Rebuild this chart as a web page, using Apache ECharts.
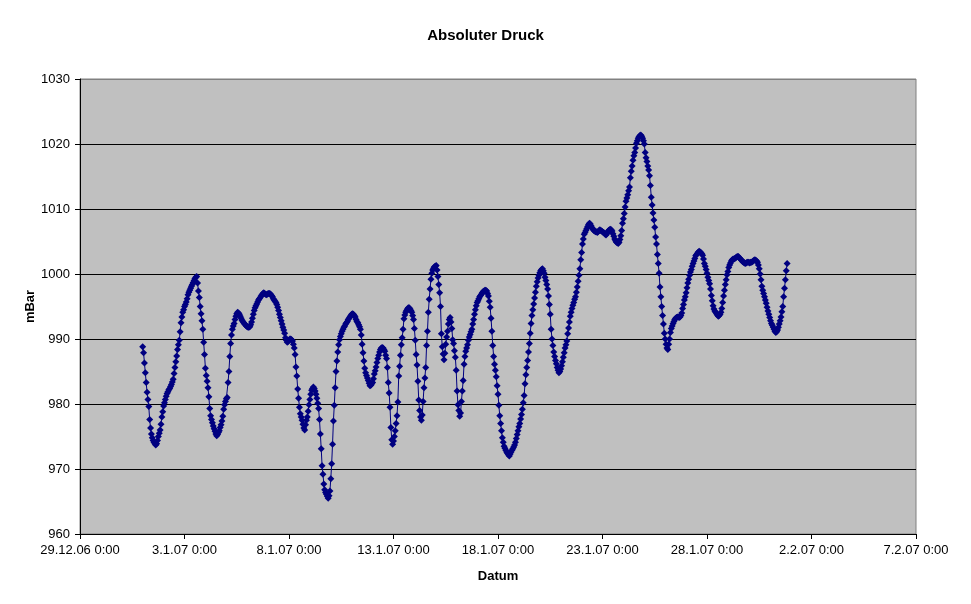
<!DOCTYPE html>
<html>
<head>
<meta charset="utf-8">
<script src="https://cdn.jsdelivr.net/npm/echarts@6/dist/echarts.min.js"></script>
<style>
html,body{margin:0;padding:0;background:#fff;}
#chart{width:971px;height:604px;}
</style>
</head>
<body>
<div id="chart"></div>
<script>
// Hourly absolute pressure readings (mBar), first reading 1.1.07 0:00
var startDay = 3;            // days after 29.12.06 0:00
var stepHours = 1;
var pressure = [
988.8,987.9,986.3,984.8,983.3,981.8,980.7,979.6,977.6,976.3,975.4,974.8,974.4,974.1,973.9,973.7,973.9,974.4,975.0,975.5,976.0,976.9,978.0,978.8,
979.7,980.2,980.7,981.2,981.6,981.9,982.2,982.4,982.7,983.0,983.4,983.8,984.7,985.6,986.5,987.4,988.4,989.1,989.8,991.1,992.5,993.4,994.1,994.5,
995.0,995.3,995.7,996.2,996.8,997.2,997.5,997.8,998.1,998.4,998.7,999.0,999.3,999.5,999.6,998.6,997.4,996.4,995.0,993.9,992.8,991.5,989.5,987.6,
985.5,984.4,983.5,982.5,981.1,979.3,978.2,977.6,977.1,976.6,976.2,975.8,975.4,975.1,975.3,975.6,975.9,976.4,976.8,977.4,978.1,979.2,979.9,980.4,
980.8,981.0,983.3,985.0,987.3,989.3,990.6,991.5,992.0,992.4,993.0,993.5,993.9,994.1,994.0,993.8,993.5,993.2,992.9,992.7,992.5,992.3,992.2,992.0,
991.9,991.8,991.8,991.9,992.2,992.6,993.2,993.8,994.4,994.8,995.1,995.4,995.7,996.0,996.2,996.4,996.6,996.8,997.0,997.1,997.0,996.9,996.8,996.9,
997.0,997.0,997.0,996.9,996.7,996.5,996.2,996.0,995.8,995.6,995.3,994.9,994.4,993.8,993.3,992.8,992.3,991.8,991.4,990.9,990.2,989.8,989.5,989.6,
989.8,990.0,990.0,989.9,989.7,989.2,988.6,987.6,985.7,984.3,982.3,980.9,979.5,978.5,978.0,977.5,976.9,976.3,976.0,976.8,977.5,978.0,978.9,979.9,
980.7,981.5,982.1,982.4,982.6,982.4,982.0,981.5,980.9,980.1,979.3,977.6,975.4,973.1,970.5,969.2,967.7,966.8,966.4,966.1,965.8,965.5,965.9,966.6,
968.5,970.8,973.8,977.4,979.8,982.5,985.0,986.6,988.0,989.1,989.9,990.4,990.8,991.2,991.5,991.8,992.0,992.3,992.5,992.7,993.0,993.2,993.4,993.6,
993.8,993.9,993.8,993.6,993.4,993.0,992.7,992.5,992.2,991.9,991.5,990.6,989.2,987.9,986.6,985.5,984.8,984.4,984.0,983.6,983.2,982.8,982.9,983.1,
983.3,983.9,984.6,985.1,985.7,986.4,987.0,987.5,988.0,988.4,988.6,988.7,988.6,988.4,988.1,987.5,987.0,985.6,983.3,981.7,979.5,976.4,974.5,973.8,
974.3,975.0,975.9,977.0,978.2,980.3,984.3,985.8,987.5,989.1,990.2,991.5,993.1,993.7,994.1,994.4,994.6,994.8,994.8,994.6,994.4,994.1,993.6,993.0,
991.6,989.8,987.6,986.0,983.5,980.6,979.0,978.0,977.5,978.3,980.4,982.5,984.0,985.6,989.0,991.2,994.1,996.1,997.7,999.2,1000.1,1000.6,1000.9,1001.1,
1001.2,1001.3,1000.6,999.6,998.4,997.1,995.0,990.8,988.8,987.7,986.8,987.8,989.2,990.3,991.2,992.3,993.0,993.3,992.6,991.6,989.9,989.3,988.2,987.2,
985.2,982.0,979.9,979.0,978.1,978.6,980.4,982.0,983.6,986.1,987.3,988.1,988.6,989.1,989.8,990.3,990.7,991.1,991.5,992.3,993.0,993.8,994.5,995.1,
995.6,995.9,996.2,996.5,996.7,996.9,997.1,997.3,997.4,997.5,997.5,997.4,997.0,996.6,995.8,994.9,993.2,991.2,989.0,987.3,986.1,985.2,984.2,982.8,
981.5,979.8,978.2,977.0,975.9,974.8,974.1,973.5,973.2,972.9,972.6,972.4,972.2,972.0,972.3,972.6,972.9,973.1,973.4,973.7,974.1,974.7,975.3,975.9,
976.5,977.0,977.7,978.4,979.2,980.2,981.3,983.1,984.5,985.6,986.7,988.0,989.3,990.9,992.4,993.6,994.5,995.4,996.3,997.2,998.1,998.8,999.4,999.8,
1000.2,1000.5,1000.7,1000.8,1000.5,1000.1,999.5,999.0,998.4,997.7,996.6,995.3,993.8,991.5,990.0,989.0,988.0,987.3,986.7,986.2,985.6,985.2,984.8,985.0,
985.4,985.9,986.5,987.2,987.9,988.6,989.1,989.7,990.8,991.7,992.6,993.5,994.1,994.7,995.2,995.6,996.1,996.5,997.2,998.0,998.9,999.8,1000.8,1002.2,
1003.3,1004.6,1005.4,1006.1,1006.4,1006.7,1007.0,1007.3,1007.6,1007.8,1007.7,1007.4,1007.1,1006.9,1006.7,1006.6,1006.5,1006.5,1006.4,1006.5,1006.7,1006.8,1006.7,1006.6,
1006.5,1006.4,1006.3,1006.1,1006.0,1006.2,1006.5,1006.7,1006.8,1006.9,1006.8,1006.6,1006.2,1005.8,1005.4,1005.1,1004.9,1004.8,1004.7,1004.9,1005.3,1005.9,1006.7,1007.8,
1008.5,1009.3,1010.3,1011.2,1011.7,1012.2,1012.8,1013.4,1014.8,1015.8,1016.6,1017.5,1018.2,1018.7,1019.4,1020.1,1020.5,1020.9,1021.1,1021.3,1021.4,1021.2,1020.9,1020.5,
1020.0,1018.7,1017.9,1017.3,1016.6,1016.0,1015.1,1013.6,1011.8,1010.6,1009.4,1008.3,1007.2,1005.7,1004.6,1003.0,1001.6,1000.1,998.0,996.5,995.0,993.6,992.3,990.9,
990.0,989.2,988.6,988.4,989.2,990.0,991.0,991.6,992.0,992.4,992.7,993.0,993.2,993.3,993.4,993.4,993.3,993.4,993.6,994.0,994.7,995.3,996.0,996.5,
997.1,997.9,998.6,999.2,999.8,1000.3,1000.7,1001.2,1001.6,1002.0,1002.4,1002.8,1003.0,1003.2,1003.4,1003.5,1003.4,1003.3,1003.1,1002.9,1002.3,1001.6,1001.2,1000.7,
1000.1,999.5,999.0,998.5,997.7,996.7,995.9,995.1,994.6,994.3,994.1,993.9,993.7,993.5,993.6,993.8,994.1,994.7,995.6,996.6,997.5,998.4,999.1,999.9,
1000.4,1001.0,1001.4,1001.7,1002.0,1002.2,1002.3,1002.3,1002.4,1002.5,1002.6,1002.7,1002.7,1002.5,1002.4,1002.2,1002.1,1001.9,1001.8,1001.7,1001.6,1001.7,1001.8,1001.8,
1001.8,1001.7,1001.8,1001.8,1001.9,1002.0,1002.1,1002.2,1002.1,1002.0,1001.8,1001.4,1000.8,1000.0,999.1,998.1,997.5,997.0,996.5,996.0,995.5,994.9,994.3,993.8,
993.3,992.8,992.4,992.1,991.8,991.5,991.2,991.0,991.1,991.4,991.8,992.3,992.8,993.4,994.2,995.0,996.5,997.8,999.1,1000.5,1001.6
];
var xTickLabels = ['29.12.06 0:00','3.1.07 0:00','8.1.07 0:00','13.1.07 0:00','18.1.07 0:00','23.1.07 0:00','28.1.07 0:00','2.2.07 0:00','7.2.07 0:00'];
var xTickStepDays = 5;
var yMin = 960, yMax = 1030, yStep = 10;

var seriesData = pressure.map(function (v, i) { return [startDay + i * stepHours / 24, v]; });

// gridlines black, the top one (plot-area frame) gray
var gridColors = [];
for (var k = yMin; k < yMax; k += yStep) gridColors.push('#000000');
gridColors.push('#808080');

var chart = echarts.init(document.getElementById('chart'), null, {renderer: 'canvas'});
var font = '"Liberation Sans", Arial, sans-serif';
chart.setOption({
  animation: false,
  backgroundColor: '#ffffff',
  title: {
    text: 'Absoluter Druck',
    left: 'center',
    top: 23,
    textStyle: {fontFamily: font, fontSize: 15, fontWeight: 'bold', color: '#000'}
  },
  grid: {
    left: 80, right: 55, top: 79, bottom: 70,
    show: true, backgroundColor: '#C0C0C0', borderWidth: 1, borderColor: '#808080'
  },
  xAxis: {
    type: 'value',
    min: 0, max: (xTickLabels.length - 1) * xTickStepDays, interval: xTickStepDays,
    name: 'Datum', nameLocation: 'middle', nameGap: 36, nameMoveOverlap: false,
    nameTextStyle: {fontFamily: font, fontSize: 13, fontWeight: 'bold', color: '#000'},
    axisLine: {show: true, lineStyle: {color: '#000', width: 1}},
    axisTick: {show: true, length: 5, lineStyle: {color: '#000'}},
    axisLabel: {
      fontFamily: font, fontSize: 13, color: '#000', margin: 10,
      formatter: function (v) { return xTickLabels[Math.round(v / xTickStepDays)] || ''; }
    },
    splitLine: {show: false}
  },
  yAxis: {
    type: 'value',
    min: yMin, max: yMax, interval: yStep,
    name: 'mBar', nameLocation: 'middle', nameGap: 43, nameMoveOverlap: false,
    nameTextStyle: {fontFamily: font, fontSize: 13, fontWeight: 'bold', color: '#000'},
    axisLine: {show: true, lineStyle: {color: '#000', width: 1}},
    axisTick: {show: true, length: 5, lineStyle: {color: '#000'}},
    axisLabel: {fontFamily: font, fontSize: 13, color: '#000', margin: 10,
      formatter: function (v) { return String(v); }},
    splitLine: {show: true, lineStyle: {color: gridColors, width: 1}}
  },
  series: [{
    type: 'line',
    data: seriesData,
    symbol: 'diamond',
    symbolSize: 7,
    showSymbol: true,
    lineStyle: {color: '#000080', width: 1},
    itemStyle: {color: '#000080'},
    clip: false
  }]
});
</script>
</body>
</html>
